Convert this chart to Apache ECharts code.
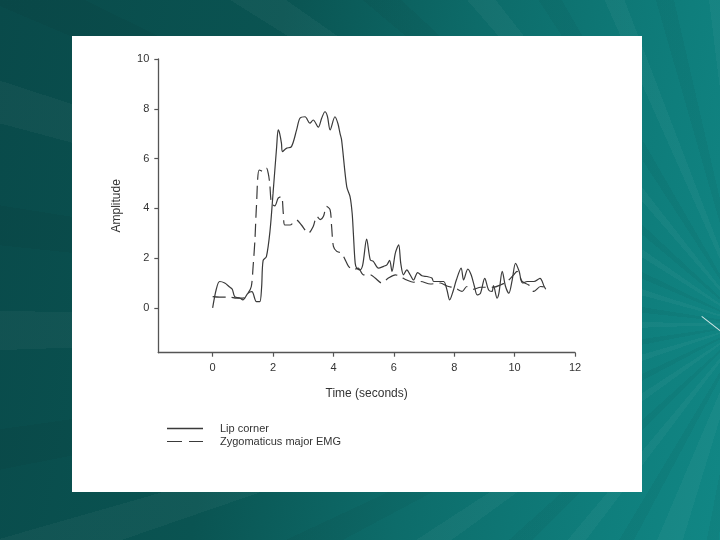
<!DOCTYPE html>
<html>
<head>
<meta charset="utf-8">
<script src="https://cdn.jsdelivr.net/npm/echarts@6/dist/echarts.min.js"></script>
<style>
  html, body { margin: 0; padding: 0; }
  body {
    width: 720px; height: 540px; overflow: hidden; position: relative;
    background:
      repeating-conic-gradient(from 200deg at 104% 60%, rgba(255,255,255,0.035) 0deg 3deg, rgba(0,0,0,0) 3deg 8deg, rgba(0,0,0,0.04) 8deg 11deg, rgba(0,0,0,0) 11deg 17deg),
      linear-gradient(100deg, #094a4a 0%, #0a5452 35%, #0d6c6a 60%, #0f7e7c 85%, #118785 100%);
  }
  #panel {
    position: absolute; left: 72px; top: 36px; width: 570px; height: 456px;
    background: #fff;
  }
  #spark {
    position: absolute; left: 702px; top: 316px; width: 26px; height: 1px;
    background: rgba(255,255,255,0.8); transform: rotate(38deg); transform-origin: 0 0;
  }
</style>
</head>
<body>
<div id="panel"></div>
<div id="spark"></div>
<script>
// 嘴角位移（实线）
const lipTime = [0, 0.12, 0.23, 0.4, 0.55, 0.65, 0.73, 0.9, 1.0, 1.17, 1.3, 1.45, 1.56, 1.62, 1.67, 1.78, 1.9, 2.0, 2.12, 2.17,
  2.22, 2.28, 2.31, 2.44, 2.61, 2.78, 2.89, 3.06, 3.22, 3.33, 3.5, 3.61, 3.72, 3.8, 3.89, 4.05, 4.15, 4.22, 4.27, 4.44,
  4.55, 4.62, 4.66, 4.72, 4.77, 4.88, 4.97, 5.1, 5.22, 5.32, 5.49, 5.66, 5.77, 5.86, 5.94, 6.05, 6.16, 6.23, 6.32, 6.43,
  6.54, 6.65, 6.79, 6.93, 7.1, 7.26, 7.32, 7.49, 7.65, 7.76, 7.85, 7.96, 8.07, 8.23, 8.31, 8.45, 8.56, 8.67, 8.76, 8.87,
  9.01, 9.14, 9.25, 9.3, 9.42, 9.48, 9.59, 9.7, 9.81, 9.92, 10.03, 10.15, 10.26, 10.42, 10.64, 10.84, 10.98, 11.03];
const lipAmp = [0, 0.75, 1.06, 1.0, 0.85, 0.75, 0.45, 0.4, 0.32, 0.59, 0.65, 0.25, 0.25, 0.8, 1.9, 2.06, 3.1, 4.6, 6.48, 7.15,
  7.0, 6.6, 6.28, 6.41, 6.48, 7.15, 7.62, 7.68, 7.42, 7.55, 7.26, 7.62, 7.88, 7.7, 7.15, 7.68, 7.4, 7.0, 6.75, 4.87,
  4.47, 3.8, 3.0, 1.8, 1.6, 1.53, 1.73, 2.76, 1.93, 1.87, 1.6, 1.67, 1.73, 1.91, 1.47, 2.2, 2.53, 1.79, 1.33, 1.53,
  1.33, 1.12, 1.42, 1.29, 1.26, 1.2, 1.06, 1.06, 1.06, 0.72, 0.32, 0.66, 1.12, 1.6, 1.12, 1.56, 1.33, 0.86, 0.52, 0.59,
  1.19, 0.72, 0.66, 0.9, 0.39, 0.59, 1.47, 0.86, 0.59, 1.12, 1.79, 1.47, 1.0, 1.06, 1.06, 1.19, 0.86, 0.75];

// 颧大肌肌电（虚线）
const emgTime = [0, 0.23, 0.56, 0.79, 1.0, 1.17, 1.28, 1.34, 1.4, 1.45, 1.54, 1.67, 1.78, 1.84, 1.89, 1.95, 2.06, 2.17, 2.28, 2.34,
  2.39, 2.56, 2.78, 2.94, 3.17, 3.33, 3.45, 3.56, 3.67, 3.77, 3.89, 3.94, 4.0, 4.11, 4.27, 4.39, 4.5, 4.66, 4.82, 4.99,
  5.22, 5.38, 5.6, 5.82, 6.05, 6.21, 6.43, 6.65, 6.88, 7.21, 7.54, 7.76, 8.04, 8.26, 8.42, 8.64, 8.87, 9.08, 9.3, 9.53,
  9.75, 9.97, 10.08, 10.25, 10.47, 10.64, 10.86, 11.03];
const emgAmp = [0.45, 0.43, 0.43, 0.39, 0.39, 0.59, 0.86, 1.67, 2.73, 4.07, 5.54, 5.49, 5.62, 5.41, 5.0, 4.2, 4.1, 4.41, 4.47, 3.8,
  3.33, 3.33, 3.53, 3.33, 3.0, 3.27, 3.68, 3.55, 3.68, 4.08, 3.94, 3.27, 2.47, 2.27, 2.2, 1.93, 1.67, 1.53, 1.6, 1.33,
  1.33, 1.2, 1.0, 1.2, 1.33, 1.26, 1.12, 1.03, 1.06, 0.96, 1.0, 0.88, 0.79, 0.66, 0.86, 0.75, 0.83, 0.83, 0.83, 0.92,
  1.06, 1.33, 1.47, 1.06, 0.92, 0.66, 0.86, 0.83];

const xTicks = [0, 2, 4, 6, 8, 10, 12];
const yTicks = [0, 2, 4, 6, 8, 10];

const chart = echarts.init(document.getElementById('panel'));

const axisColor = '#555';
const lineColor = '#3a3a3a';
const textColor = '#333';
const fontFamily = 'Liberation Sans, Arial, sans-serif';

chart.setOption({
  animation: false,
  grid: { left: 86.3, top: 23, width: 416.7, height: 293.7 },
  legend: {
    orient: 'vertical',
    left: 95,
    top: 387,
    padding: 0,
    itemWidth: 36,
    itemHeight: 1.3,
    itemGap: 2,
    selectedMode: false,
    textStyle: { fontSize: 11, color: textColor, fontFamily, padding: [0, 0, 0, 12] },
    data: [
      { name: 'Lip corner', icon: 'rect', itemStyle: { color: lineColor } },
      { name: 'Zygomaticus major EMG', icon: 'path://M0,0H15V1H0Z M22,0H36V1H22Z', itemStyle: { color: lineColor } }
    ]
  },
  xAxis: {
    type: 'value',
    min: -1.8,
    max: 12,
    name: 'Time (seconds)',
    nameLocation: 'middle',
    nameGap: 35,
    nameTextStyle: { fontSize: 12, color: textColor, fontFamily },
    splitLine: { show: false },
    axisLine: { onZero: false, lineStyle: { color: axisColor, width: 1.3 } },
    axisTick: { customValues: xTicks, length: 4, lineStyle: { color: axisColor, width: 1.2 } },
    axisLabel: { customValues: xTicks, margin: 10, fontSize: 11, color: textColor, fontFamily }
  },
  yAxis: {
    type: 'value',
    min: -1.8,
    max: 10,
    name: 'Amplitude',
    nameLocation: 'middle',
    nameGap: 36,
    nameTextStyle: { fontSize: 12, color: textColor, fontFamily },
    splitLine: { show: false },
    axisLine: { show: true, onZero: false, lineStyle: { color: axisColor, width: 1.3 } },
    axisTick: { show: true, customValues: yTicks, length: 4, lineStyle: { color: axisColor, width: 1.2 } },
    axisLabel: { customValues: yTicks, margin: 9, fontSize: 11, color: textColor, fontFamily }
  },
  series: [
    {
      name: 'Lip corner',
      type: 'line',
      symbol: 'none',
      smooth: 0.3,
      data: lipTime.map((t, i) => [t, lipAmp[i]]),
      lineStyle: { color: lineColor, width: 1.2 },
      itemStyle: { color: lineColor }
    },
    {
      name: 'Zygomaticus major EMG',
      type: 'line',
      symbol: 'none',
      smooth: 0.3,
      data: emgTime.map((t, i) => [t, emgAmp[i]]),
      lineStyle: { color: lineColor, width: 1.2, type: [13, 6] },
      itemStyle: { color: lineColor }
    }
  ]
});
</script>
</body>
</html>
